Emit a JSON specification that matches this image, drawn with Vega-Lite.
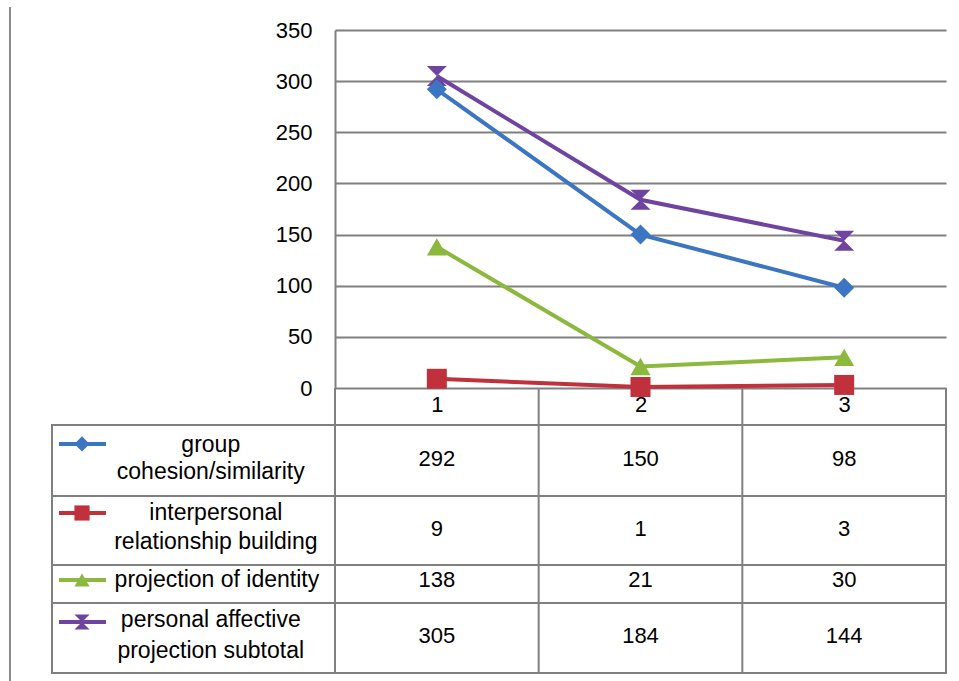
{
  "$schema": "https://vega.github.io/schema/vega-lite/v6.json",
  "autosize": {"type": "none"},
  "width": 611,
  "height": 358,
  "padding": {"left": 335, "top": 30, "right": 13, "bottom": 293},
  "background": "white",
  "config": {
    "view": {"stroke": null},
    "font": "Liberation Sans",
    "axis": {"labelFont": "Liberation Sans", "labelFontSize": 22, "labelColor": "black"}
  },
  "data": {
    "values": [
      {"series": "personal affective projection subtotal", "t": 1, "count": 305},
      {"series": "personal affective projection subtotal", "t": 2, "count": 184},
      {"series": "personal affective projection subtotal", "t": 3, "count": 144},
      {"series": "projection of identity", "t": 1, "count": 138},
      {"series": "projection of identity", "t": 2, "count": 21},
      {"series": "projection of identity", "t": 3, "count": 30},
      {"series": "interpersonal relationship building", "t": 1, "count": 9},
      {"series": "interpersonal relationship building", "t": 2, "count": 1},
      {"series": "interpersonal relationship building", "t": 3, "count": 3},
      {"series": "group cohesion/similarity", "t": 1, "count": 292},
      {"series": "group cohesion/similarity", "t": 2, "count": 150},
      {"series": "group cohesion/similarity", "t": 3, "count": 98}
    ]
  },
  "layer": [
    {
      "data": {"values": [{}]},
      "mark": {"type": "rule", "color": "#8a8a8a", "strokeWidth": 2},
      "encoding": {
        "x": {"datum": -1.0957, "type": "quantitative", "scale": {"domain": [0.5, 3.5], "nice": false, "zero": false}},
        "y": {"datum": 372.5, "type": "quantitative", "scale": {"domain": [0, 350], "nice": false}},
        "y2": {"datum": -286.4}
      }
    },
    {
      "data": {"values": [{}]},
      "mark": {"type": "rect", "fill": null, "stroke": "#808080", "strokeWidth": 2},
      "encoding": {
        "x": {"datum": -0.8895, "type": "quantitative"},
        "x2": {"datum": 3.5},
        "y": {"datum": -36.2, "type": "quantitative"},
        "y2": {"datum": -278.6}
      }
    },
    {
      "data": {"values": [{"edge": -105.6}, {"edge": -173.0}, {"edge": -210.2}]},
      "mark": {"type": "rule", "color": "#808080", "strokeWidth": 2},
      "encoding": {
        "x": {"datum": -0.8895, "type": "quantitative"},
        "x2": {"datum": 3.5},
        "y": {"field": "edge", "type": "quantitative"}
      }
    },
    {
      "data": {"values": [{"edge": 0.5}, {"edge": 1.5}, {"edge": 2.5}]},
      "mark": {"type": "rule", "color": "#808080", "strokeWidth": 2},
      "encoding": {
        "x": {"field": "edge", "type": "quantitative"},
        "y": {"datum": 0, "type": "quantitative"},
        "y2": {"datum": -278.6}
      }
    },
    {
      "data": {"values": [{}]},
      "mark": {"type": "rule", "color": "#808080", "strokeWidth": 2},
      "encoding": {
        "x": {"datum": 3.5, "type": "quantitative"},
        "y": {"datum": 0, "type": "quantitative"},
        "y2": {"datum": -36.2}
      }
    },
    {
      "mark": {"type": "line", "strokeWidth": 4},
      "encoding": {
        "x": {
          "field": "t", "type": "quantitative",
          "axis": {"values": [1, 2, 3], "format": "d", "ticks": false, "domain": false, "grid": false, "labelPadding": 6, "title": null}
        },
        "y": {
          "field": "count", "type": "quantitative",
          "axis": {"values": [0, 50, 100, 150, 200, 250, 300, 350], "ticks": false, "labelPadding": 23, "grid": true, "gridColor": "#808080", "gridWidth": 2, "gridOpacity": 1, "domain": true, "domainColor": "#808080", "domainWidth": 2, "title": null}
        },
        "color": {
          "field": "series", "type": "nominal", "legend": null,
          "scale": {
            "domain": ["group cohesion/similarity", "interpersonal relationship building", "projection of identity", "personal affective projection subtotal"],
            "range": ["#3C75C2", "#C0313B", "#8CB83E", "#6F44A0"]
          }
        }
      }
    },
    {
      "mark": {"type": "point", "filled": true, "opacity": 1, "size": 400},
      "encoding": {
        "x": {"field": "t", "type": "quantitative"},
        "y": {"field": "count", "type": "quantitative"},
        "color": {"field": "series", "type": "nominal", "legend": null},
        "shape": {
          "field": "series", "type": "nominal", "legend": null,
          "scale": {
            "domain": ["group cohesion/similarity", "interpersonal relationship building", "projection of identity", "personal affective projection subtotal"],
            "range": ["diamond", "square", "triangle-up", "M-1,-1L1,-1L-1,1L1,1Z"]
          }
        }
      }
    },
    {
      "transform": [{"filter": "datum.series === 'group cohesion/similarity'"}],
      "layer": [
        {
          "mark": {"type": "text", "fontSize": 22, "color": "black"},
          "encoding": {"x": {"field": "t", "type": "quantitative"}, "y": {"datum": -69.4, "type": "quantitative"}, "text": {"field": "count", "type": "quantitative"}}
        },
        {
          "transform": [{"filter": "datum.t === 1"}],
          "mark": {"type": "text", "fontSize": 23, "color": "black", "lineHeight": 27, "text": ["group", "cohesion/similarity"]},
          "encoding": {"x": {"datum": -0.11, "type": "quantitative"}, "y": {"datum": -55.7, "type": "quantitative"}}
        },
        {
          "transform": [{"filter": "datum.t === 1"}],
          "mark": {"type": "rule", "strokeWidth": 4},
          "encoding": {"x": {"datum": -0.8551, "type": "quantitative"}, "x2": {"datum": -0.6244}, "y": {"datum": -54.7, "type": "quantitative"}, "color": {"field": "series", "type": "nominal", "legend": null}}
        },
        {
          "transform": [{"filter": "datum.t === 1"}],
          "mark": {"type": "point", "filled": true, "opacity": 1, "size": 230},
          "encoding": {"x": {"datum": -0.7422, "type": "quantitative"}, "y": {"datum": -54.7, "type": "quantitative"}, "color": {"field": "series", "type": "nominal", "legend": null}, "shape": {"field": "series", "type": "nominal", "legend": null}}
        }
      ]
    },
    {
      "transform": [{"filter": "datum.series === 'interpersonal relationship building'"}],
      "layer": [
        {
          "mark": {"type": "text", "fontSize": 22, "color": "black"},
          "encoding": {"x": {"field": "t", "type": "quantitative"}, "y": {"datum": -137.5, "type": "quantitative"}, "text": {"field": "count", "type": "quantitative"}}
        },
        {
          "transform": [{"filter": "datum.t === 1"}],
          "mark": {"type": "text", "fontSize": 23, "color": "black", "lineHeight": 29, "text": ["interpersonal", "relationship building"]},
          "encoding": {"x": {"datum": -0.085, "type": "quantitative"}, "y": {"datum": -122.2, "type": "quantitative"}}
        },
        {
          "transform": [{"filter": "datum.t === 1"}],
          "mark": {"type": "rule", "strokeWidth": 4},
          "encoding": {"x": {"datum": -0.8551, "type": "quantitative"}, "x2": {"datum": -0.6244}, "y": {"datum": -122.2, "type": "quantitative"}, "color": {"field": "series", "type": "nominal", "legend": null}}
        },
        {
          "transform": [{"filter": "datum.t === 1"}],
          "mark": {"type": "point", "filled": true, "opacity": 1, "size": 230},
          "encoding": {"x": {"datum": -0.7422, "type": "quantitative"}, "y": {"datum": -122.2, "type": "quantitative"}, "color": {"field": "series", "type": "nominal", "legend": null}, "shape": {"field": "series", "type": "nominal", "legend": null}}
        }
      ]
    },
    {
      "transform": [{"filter": "datum.series === 'projection of identity'"}],
      "layer": [
        {
          "mark": {"type": "text", "fontSize": 22, "color": "black"},
          "encoding": {"x": {"field": "t", "type": "quantitative"}, "y": {"datum": -187.7, "type": "quantitative"}, "text": {"field": "count", "type": "quantitative"}}
        },
        {
          "transform": [{"filter": "datum.t === 1"}],
          "mark": {"type": "text", "fontSize": 23, "color": "black", "text": "projection of identity"},
          "encoding": {"x": {"datum": -0.08, "type": "quantitative"}, "y": {"datum": -187.7, "type": "quantitative"}}
        },
        {
          "transform": [{"filter": "datum.t === 1"}],
          "mark": {"type": "rule", "strokeWidth": 4},
          "encoding": {"x": {"datum": -0.8551, "type": "quantitative"}, "x2": {"datum": -0.6244}, "y": {"datum": -187.7, "type": "quantitative"}, "color": {"field": "series", "type": "nominal", "legend": null}}
        },
        {
          "transform": [{"filter": "datum.t === 1"}],
          "mark": {"type": "point", "filled": true, "opacity": 1, "size": 230},
          "encoding": {"x": {"datum": -0.7422, "type": "quantitative"}, "y": {"datum": -187.7, "type": "quantitative"}, "color": {"field": "series", "type": "nominal", "legend": null}, "shape": {"field": "series", "type": "nominal", "legend": null}}
        }
      ]
    },
    {
      "transform": [{"filter": "datum.series === 'personal affective projection subtotal'"}],
      "layer": [
        {
          "mark": {"type": "text", "fontSize": 22, "color": "black"},
          "encoding": {"x": {"field": "t", "type": "quantitative"}, "y": {"datum": -242.5, "type": "quantitative"}, "text": {"field": "count", "type": "quantitative"}}
        },
        {
          "transform": [{"filter": "datum.t === 1"}],
          "mark": {"type": "text", "fontSize": 23, "color": "black", "lineHeight": 31, "text": ["personal affective", "projection subtotal"]},
          "encoding": {"x": {"datum": -0.11, "type": "quantitative"}, "y": {"datum": -226.8, "type": "quantitative"}}
        },
        {
          "transform": [{"filter": "datum.t === 1"}],
          "mark": {"type": "rule", "strokeWidth": 4},
          "encoding": {"x": {"datum": -0.8551, "type": "quantitative"}, "x2": {"datum": -0.6244}, "y": {"datum": -228.8, "type": "quantitative"}, "color": {"field": "series", "type": "nominal", "legend": null}}
        },
        {
          "transform": [{"filter": "datum.t === 1"}],
          "mark": {"type": "point", "filled": true, "opacity": 1, "size": 230},
          "encoding": {"x": {"datum": -0.7422, "type": "quantitative"}, "y": {"datum": -228.8, "type": "quantitative"}, "color": {"field": "series", "type": "nominal", "legend": null}, "shape": {"field": "series", "type": "nominal", "legend": null}}
        }
      ]
    }
  ]
}
